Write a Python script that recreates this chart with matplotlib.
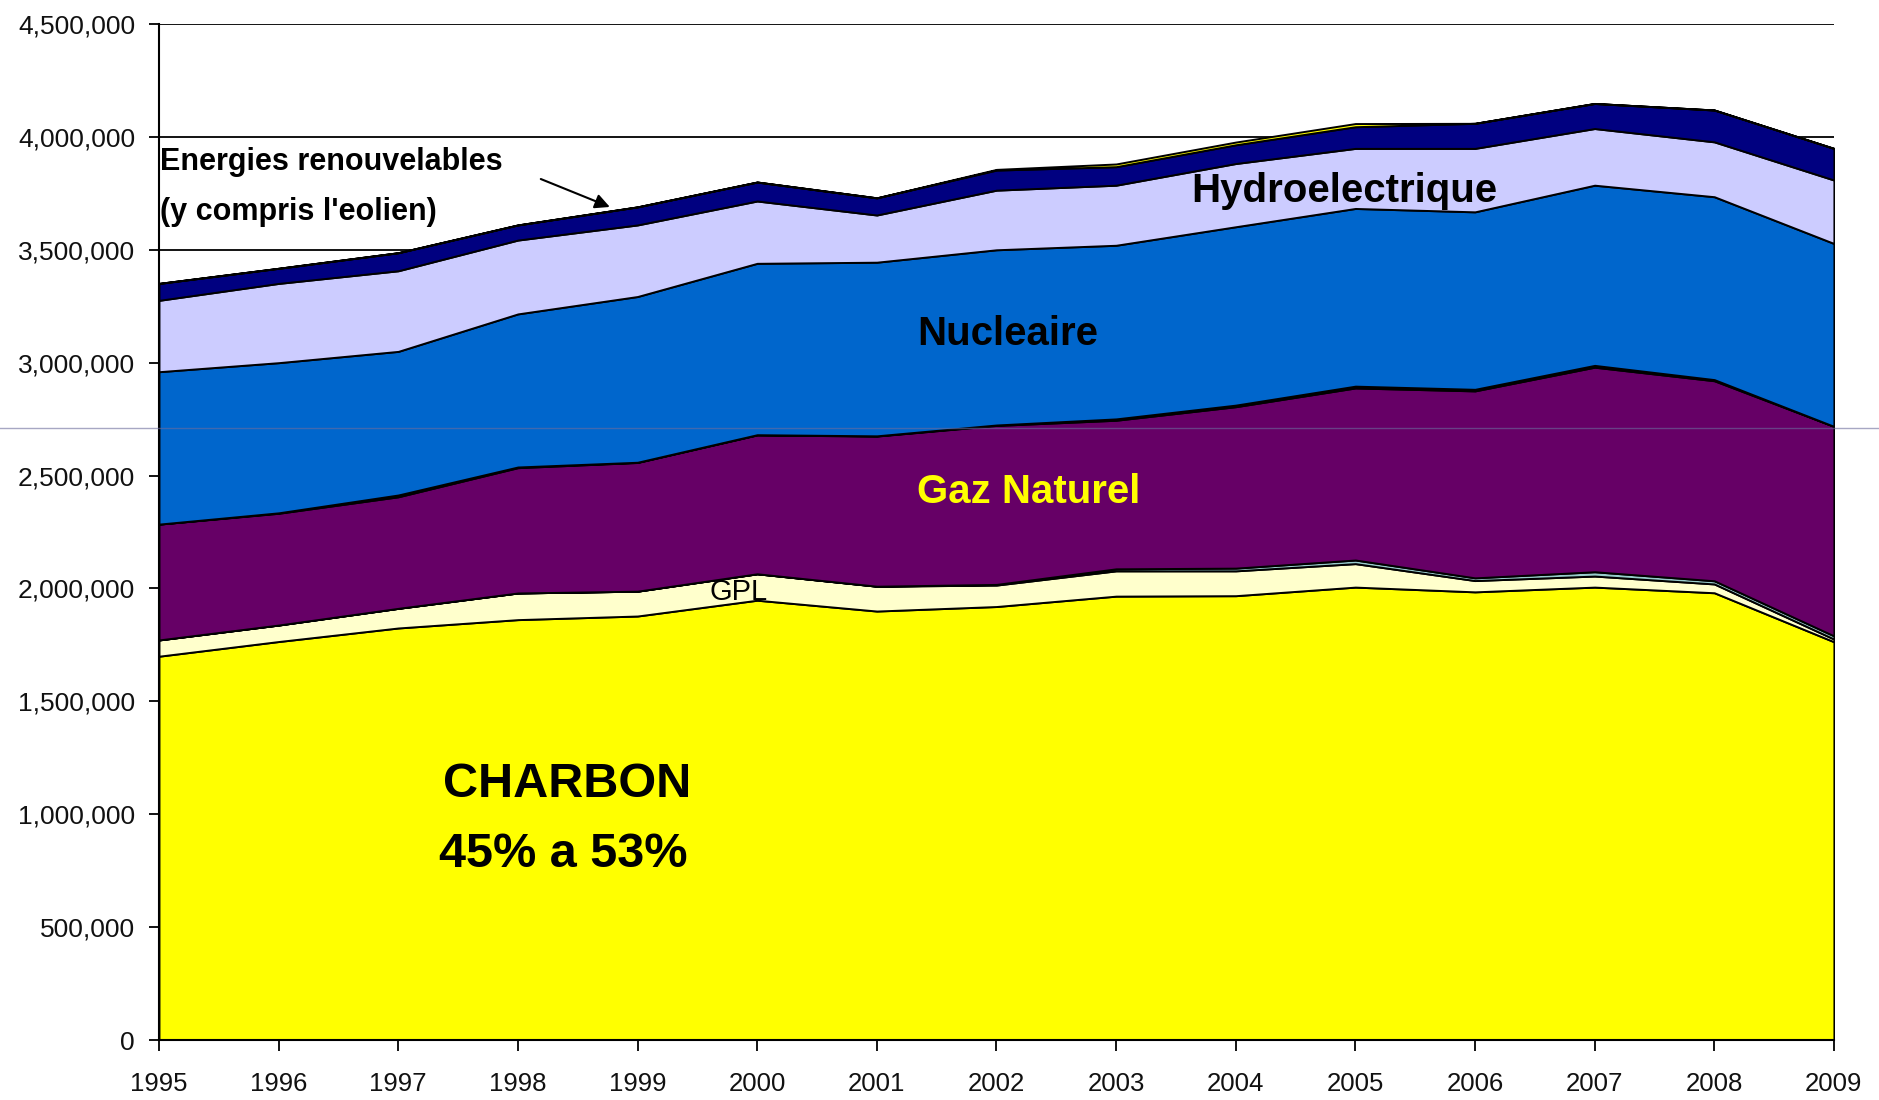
import matplotlib
matplotlib.use("Agg")
import matplotlib.pyplot as plt
from matplotlib.ticker import FuncFormatter
from matplotlib.lines import Line2D

# Production d'electricite par source
years = list(range(1995, 2010))
charbon = [1700000, 1765000, 1825000, 1862000, 1878000, 1948000, 1900000, 1920000,
           1966000, 1968000, 2006000, 1985000, 2006000, 1981000, 1764000]
gpl = [72000, 73000, 87000, 118000, 110000, 117000, 110000, 95000,
       112000, 110000, 104000, 50000, 49000, 39000, 12000]
autres_gaz = [0, 0, 0, 0, 0, 0, 0, 3000, 9000, 12000, 16000, 12000, 19000, 14000, 14000]
gaz_naturel = [513000, 495000, 494000, 555000, 570000, 615000, 665000, 704000,
               658000, 715000, 762000, 828000, 906000, 886000, 928000]
autres = [0, 2000, 8000, 3000, 1000, 1000, 1000, 2000, 6000, 7000, 8000, 7000, 8000, 5000, 0]
nucleaire = [675000, 665000, 636000, 678000, 734000, 759000, 769000, 776000,
             769000, 790000, 787000, 786000, 798000, 810000, 810000]
hydro = [316000, 351000, 357000, 327000, 317000, 276000, 209000, 264000,
         266000, 280000, 266000, 281000, 251000, 243000, 281000]
renouvelables = [75000, 67000, 80000, 67000, 80000, 84000, 76000, 89000,
                 82000, 83000, 96000, 111000, 111000, 141000, 140000]
divers = [0, 0, 0, 0, 0, 0, 0, 3000, 12000, 12000, 14000, 0, 0, 0, 0]

series = [charbon, gpl, autres_gaz, gaz_naturel, autres, nucleaire, hydro, renouvelables, divers]
colors = ["#FFFF00", "#FFFFCC", "#99CCCC", "#660066", "#FF8080",
          "#0066CC", "#CCCCFF", "#000080", "#FFFF00"]

plt.rcParams['font.family'] = ['Liberation Sans', 'DejaVu Sans']

fig = plt.figure(figsize=(18.79, 11), dpi=100)
ax = fig.add_axes([0.0846, 0.0545, 0.8914, 0.9237])

ax.stackplot(years, *series, colors=colors, edgecolor="black", linewidth=1.4, zorder=2)

ax.set_xlim(1995, 2009)
ax.set_ylim(0, 4500000)
ax.set_xticks(years)
ax.set_yticks(range(0, 4500001, 500000))
ax.yaxis.set_major_formatter(FuncFormatter(lambda v, p: "{:,.0f}".format(v)))

# grille horizontale noire derriere les aires
ax.grid(axis="y", color="black", linewidth=1.3, zorder=0)
ax.set_axisbelow(True)
for side in ["top", "right"]:
    ax.spines[side].set_visible(False)
ax.spines["left"].set_linewidth(1.5)
ax.spines["bottom"].set_linewidth(1.5)
ax.spines["left"].set_zorder(3)
ax.spines["bottom"].set_zorder(3)

ax.tick_params(axis="x", direction="out", length=8, width=1.3, pad=15,
               labelsize=18.5, labelcolor="#111111")
ax.tick_params(axis="y", direction="out", length=7.2, width=1.3, pad=10,
               labelsize=19, labelcolor="#111111")

# annotations
ax.text(1995.01, 3853000, "Energies renouvelables", fontsize=22, fontweight="bold",
        va="baseline", ha="left", zorder=5)
ax.text(1995.01, 3632000, "(y compris l'eolien)", fontsize=22, fontweight="bold",
        va="baseline", ha="left", zorder=5)
ax.annotate("", xy=(1998.79, 3685000), xytext=(1998.17, 3818000),
            arrowprops=dict(arrowstyle="-|>", color="black", lw=1.5, mutation_scale=22),
            zorder=5)
ax.text(2003.63, 3711000, "Hydroelectrique", fontsize=29, fontweight="bold",
        va="baseline", ha="left", zorder=5)
ax.text(2001.34, 3078000, "Nucleaire", fontsize=29, fontweight="bold",
        va="baseline", ha="left", zorder=5)
ax.text(2001.34, 2378000, "Gaz Naturel", fontsize=29, fontweight="bold", color="#FFFF00",
        va="baseline", ha="left", zorder=5)
ax.text(1999.6, 1949000, "GPL", fontsize=21, va="baseline", ha="left", zorder=5)
ax.text(1997.37, 1076000, "CHARBON", fontsize=35, fontweight="bold",
        va="baseline", ha="left", zorder=5)
ax.text(1997.34, 766000, "45% a 53%", fontsize=35, fontweight="bold",
        va="baseline", ha="left", zorder=5)

# trait gris horizontal present sur la capture
fig.add_artist(Line2D([0, 1], [1 - 428 / 1100, 1 - 428 / 1100], color="#6c6c9c",
                      alpha=0.6, linewidth=1, transform=fig.transFigure, zorder=10))

fig.savefig("out.png", dpi=100, facecolor="white")
